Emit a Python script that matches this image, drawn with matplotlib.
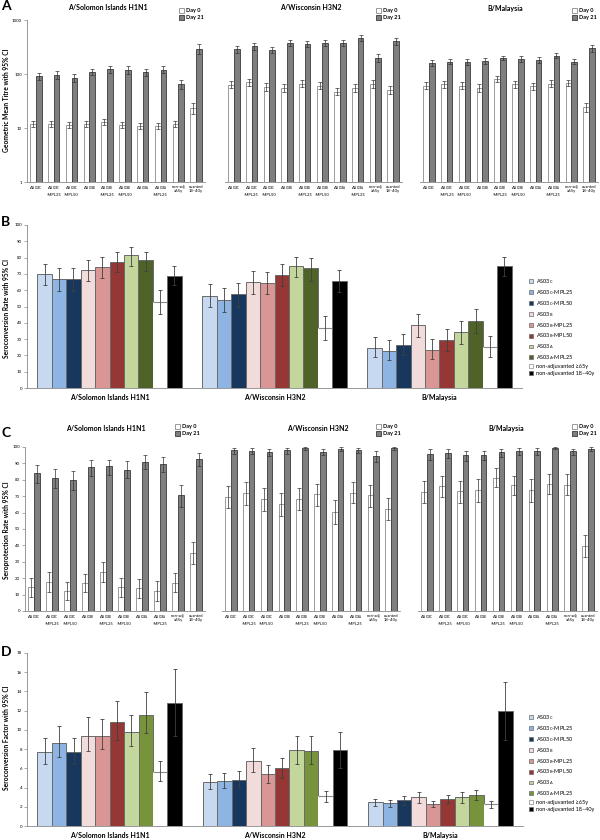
import matplotlib
matplotlib.use('Agg')
import matplotlib.pyplot as plt
import numpy as np
from matplotlib.patches import Patch

plt.rcParams['font.family'] = ['Lato', 'DejaVu Sans']
plt.rcParams['mathtext.fontset'] = 'custom'
plt.rcParams['mathtext.rm'] = 'Lato'
plt.rcParams['mathtext.it'] = 'Lato:italic'
plt.rcParams['mathtext.bf'] = 'Lato:bold'

# ---------------- data ----------------
strains = ['A/Solomon Islands H1N1', 'A/Wisconsin H3N2', 'B/Malaysia']
tick_labels = [r'AS03$_{\rm C}$', 'AS03$_{\\rm C}$\n-MPL25', 'AS03$_{\\rm C}$\n-MPL50',
               r'AS03$_{\rm B}$', 'AS03$_{\\rm B}$\n-MPL25', 'AS03$_{\\rm B}$\n-MPL50',
               r'AS03$_{\rm A}$', 'AS03$_{\\rm A}$\n-MPL25', 'non-adj\n≥65y', 'uvanted\n18–40y']
group_names = [r'AS03$_{\rm C}$', r'AS03$_{\rm C}$-MPL25', r'AS03$_{\rm C}$-MPL50',
               r'AS03$_{\rm B}$', r'AS03$_{\rm B}$-MPL25', r'AS03$_{\rm B}$-MPL50',
               r'AS03$_{\rm A}$', r'AS03$_{\rm A}$-MPL25', 'non-adjuvanted ≥65y', 'non-adjuvanted 18–40y']

# Panel A: GMT (Day 0 / Day 21) with CI
gmt_h1_d0 = [11.7, 11.7, 11.3, 11.7, 13.0, 11.3, 11.0, 10.8, 11.7, 23.5]
gmt_h1_d0_lo = [10.3, 10.4, 9.9, 10.3, 11.5, 9.9, 9.7, 9.5, 10.3, 18.5]
gmt_h1_d0_hi = [13.2, 13.2, 12.9, 13.3, 14.8, 12.8, 12.5, 12.2, 13.3, 29.0]
gmt_h1_d21 = [90, 97, 84, 110, 122, 119, 107, 120, 64, 290]
gmt_h1_d21_lo = [76, 82, 71, 96, 105, 100, 92, 104, 53, 235]
gmt_h1_d21_hi = [106, 116, 99, 126, 143, 141, 125, 140, 79, 355]

gmt_h3_d0 = [63, 70, 57, 55, 66, 61, 47, 55, 66, 51]
gmt_h3_d0_lo = [54, 60, 48, 47, 57, 52, 40, 47, 56, 43]
gmt_h3_d0_hi = [74, 82, 67, 65, 77, 72, 56, 65, 78, 61]
gmt_h3_d21 = [290, 325, 277, 375, 362, 375, 375, 460, 198, 400]
gmt_h3_d21_lo = [250, 280, 240, 325, 320, 325, 330, 400, 165, 350]
gmt_h3_d21_hi = [335, 375, 320, 430, 410, 430, 425, 530, 235, 460]

gmt_b_d0 = [61, 65, 61, 55, 81, 65, 59, 66, 69, 24]
gmt_b_d0_lo = [53, 56, 53, 47, 71, 56, 51, 57, 60, 20]
gmt_b_d0_hi = [70, 75, 70, 64, 92, 75, 68, 76, 79, 29]
gmt_b_d21 = [160, 167, 167, 174, 198, 189, 181, 218, 167, 302]
gmt_b_d21_lo = [143, 150, 149, 155, 178, 167, 161, 195, 150, 260]
gmt_b_d21_hi = [180, 186, 187, 195, 220, 213, 203, 243, 186, 350]

# Panel B: seroconversion rate (%)
scr_h1 = [69.8, 66.9, 66.9, 72.2, 74.1, 77.1, 81.6, 78.4, 52.7, 68.8]
scr_h1_lo = [62.9, 59.8, 59.8, 65.7, 67.3, 71.0, 74.9, 71.8, 45.5, 62.9]
scr_h1_hi = [75.9, 73.5, 73.9, 78.4, 80.2, 83.3, 86.7, 83.7, 60.2, 74.9]
scr_h3 = [56.5, 53.9, 57.6, 64.9, 64.7, 69.4, 74.9, 73.5, 36.7, 65.9]
scr_h3_lo = [49.4, 46.5, 50.0, 57.8, 57.8, 62.7, 67.8, 65.9, 29.6, 59.2]
scr_h3_hi = [63.7, 61.2, 64.3, 71.8, 71.4, 76.1, 80.6, 79.6, 43.9, 72.4]
scr_b = [24.5, 22.9, 26.1, 38.4, 23.5, 29.2, 34.5, 40.8, 25.1, 74.9]
scr_b_lo = [18.8, 16.9, 20.0, 31.0, 17.8, 22.4, 27.1, 33.9, 18.8, 68.5]
scr_b_hi = [31.0, 29.2, 33.1, 45.7, 30.2, 36.1, 41.4, 48.4, 32.2, 80.6]

# Panel C: seroprotection rate (%)
spr_h1_d0 = [14.4, 17.4, 12.0, 17.0, 23.5, 14.4, 13.8, 12.2, 17.0, 35.2]
spr_h1_d0_lo = [8.5, 11.3, 6.9, 11.3, 17.6, 8.5, 7.9, 6.3, 11.3, 28.7]
spr_h1_d0_hi = [20.4, 23.5, 17.6, 22.5, 29.8, 20.0, 19.4, 18.0, 23.1, 42.3]
spr_h1_d21 = [84.2, 81.4, 79.8, 87.9, 88.5, 86.2, 90.9, 89.5, 70.6, 92.5]
spr_h1_d21_lo = [78.1, 75.3, 73.7, 82.2, 82.8, 80.8, 86.8, 84.8, 63.6, 88.3]
spr_h1_d21_hi = [89.3, 86.8, 85.4, 92.3, 92.3, 91.3, 94.9, 93.9, 77.1, 96.4]

spr_h3_d0 = [69.6, 71.7, 68.0, 65.2, 68.4, 71.3, 60.1, 72.1, 70.6, 61.9]
spr_h3_d0_lo = [63.0, 64.8, 60.9, 57.9, 61.5, 64.2, 52.8, 65.6, 63.6, 55.5]
spr_h3_d0_hi = [76.5, 78.5, 74.7, 71.7, 74.7, 77.7, 67.6, 78.5, 77.1, 69.0]
spr_h3_d21 = [98.0, 97.6, 97.0, 98.0, 99.6, 97.0, 99.0, 98.4, 94.5, 99.6]
spr_h3_d21_lo = [96.0, 95.5, 94.8, 96.0, 98.0, 94.9, 97.5, 96.5, 91.0, 98.0]
spr_h3_d21_hi = [99.5, 99.2, 98.8, 99.5, 100, 98.8, 100, 99.6, 97.4, 100]

spr_b_d0 = [72.5, 76.3, 73.1, 73.7, 81.4, 76.9, 73.7, 77.3, 77.1, 39.7]
spr_b_d0_lo = [65.6, 69.8, 66.1, 66.3, 75.7, 70.7, 66.7, 71.5, 70.7, 33.0]
spr_b_d0_hi = [79.1, 82.6, 79.4, 80.2, 87.0, 82.5, 80.6, 83.8, 83.6, 46.6]
spr_b_d21 = [96.0, 96.6, 94.9, 95.3, 97.0, 97.6, 97.6, 99.6, 97.4, 99.0]
spr_b_d21_lo = [92.3, 93.0, 91.5, 92.0, 94.0, 95.0, 95.0, 98.5, 95.0, 97.8]
spr_b_d21_hi = [98.6, 98.8, 97.6, 97.8, 99.0, 99.2, 99.2, 100, 99.0, 99.8]

# Panel D: seroconversion factor
scf_h1 = [7.7, 8.6, 7.7, 9.4, 9.4, 10.8, 9.8, 11.6, 5.6, 12.8]
scf_h1_lo = [6.5, 7.2, 6.5, 7.8, 8.0, 9.0, 8.3, 9.7, 4.7, 9.4]
scf_h1_hi = [9.2, 10.4, 9.2, 11.3, 11.1, 13.0, 11.5, 13.9, 6.8, 16.3]
scf_h3 = [4.55, 4.7, 4.8, 6.8, 5.4, 6.0, 7.9, 7.8, 3.1, 7.9]
scf_h3_lo = [3.9, 4.0, 4.1, 5.6, 4.5, 5.0, 6.5, 6.5, 2.5, 6.0]
scf_h3_hi = [5.4, 5.5, 5.7, 8.1, 6.3, 7.05, 9.4, 9.4, 3.65, 9.8]
scf_b = [2.5, 2.36, 2.7, 3.0, 2.26, 2.8, 3.0, 3.2, 2.26, 12.0]
scf_b_lo = [2.1, 2.0, 2.2, 2.4, 1.95, 2.36, 2.43, 2.7, 1.9, 9.0]
scf_b_hi = [2.8, 2.7, 3.1, 3.5, 2.64, 3.2, 3.5, 3.75, 2.64, 15.0]

colors_B = ['#c6d9f1', '#8eb4e3', '#17375e', '#f2dcdb', '#d99694', '#953735',
            '#c3d69b', '#4f6228', '#ffffff', '#000000']
colors_D = ['#c6d9f1', '#8eb4e3', '#17375e', '#f2dcdb', '#d99694', '#953735',
            '#c3d69b', '#77933c', '#ffffff', '#000000']

# ---------------- layout ----------------
W, H = 600, 840
fig = plt.figure(figsize=(6, 8.4), dpi=100)

def rect(l, t, r, b):
    return [l / W, 1 - b / H, (r - l) / W, (b - t) / H]

def fx(x):
    return x / W

def fy(y):
    return 1 - y / H

TICK_FS = 3.2
ECOL = '#333333'

def day_axes(box, d0, d0lo, d0hi, d21, d21lo, d21hi, title, title_x, title_y,
             leg_x, leg_y, log, first):
    ax = fig.add_axes(rect(*box))
    d0, d0lo, d0hi = map(np.asarray, (d0, d0lo, d0hi))
    d21, d21lo, d21hi = map(np.asarray, (d21, d21lo, d21hi))
    x = np.arange(len(d0))
    w = 0.32
    if log:
        ax.set_yscale('log')
        ax.set_ylim(1, 1000)
    else:
        ax.set_ylim(0, 100)
    ax.set_xlim(-0.5, len(d0) - 0.5)
    ax.bar(x - w / 2, d0, w, color='white', edgecolor='#8a8a8a', lw=0.6, zorder=2)
    ax.bar(x + w / 2, d21, w, color='#7f7f7f', edgecolor='#3a3a3a', lw=0.6, zorder=2)
    ax.errorbar(x - w / 2, d0, yerr=[d0 - d0lo, d0hi - d0], fmt='none', ecolor=ECOL,
                elinewidth=0.5, capsize=1.2, capthick=0.5, zorder=3)
    ax.errorbar(x + w / 2, d21, yerr=[d21 - d21lo, d21hi - d21], fmt='none', ecolor=ECOL,
                elinewidth=0.5, capsize=1.2, capthick=0.5, zorder=3)
    for s in ['top', 'right']:
        ax.spines[s].set_visible(False)
    ax.spines['bottom'].set_color('#888888')
    ax.spines['bottom'].set_linewidth(0.6)
    ax.set_xticks(x)
    ax.set_xticklabels(tick_labels, fontsize=3.0, linespacing=1.1)
    ax.tick_params(axis='x', length=0, pad=2)
    if first:
        ax.spines['left'].set_color('#888888')
        ax.spines['left'].set_linewidth(0.6)
        if log:
            ax.set_yticks([1, 10, 100, 1000])
            ax.set_yticklabels(['1', '10', '100', '1000'])
            ax.minorticks_off()
        else:
            ax.set_yticks(np.arange(0, 101, 10))
        ax.tick_params(axis='y', labelsize=TICK_FS, length=2, width=0.5, pad=1.5,
                       color='#888888')
    else:
        ax.spines['left'].set_visible(False)
        ax.set_yticks([])
        ax.minorticks_off()
    fig.text(fx(title_x), fy(title_y), title, fontsize=5, fontweight='bold',
             ha='center', va='center')
    handles = [Patch(facecolor='white', edgecolor='#8a8a8a', lw=0.6, label='Day 0'),
               Patch(facecolor='#7f7f7f', edgecolor='#3a3a3a', lw=0.6, label='Day 21')]
    fig.legend(handles=handles, loc='upper left', bbox_to_anchor=(fx(leg_x), fy(leg_y)),
               frameon=False, prop={'size': 4.0, 'weight': 'bold'}, handlelength=0.9,
               handleheight=0.9, handletextpad=0.3, labelspacing=0.35, borderpad=0,
               borderaxespad=0)
    return ax

def group_axes(box, vals, los, his, colors, ylim, ystep, leg_top):
    ax = fig.add_axes(rect(*box))
    n = len(vals[0])
    w = 1 / 11.45
    for g in range(len(vals)):
        v = np.asarray(vals[g])
        lo = np.asarray(los[g])
        hi = np.asarray(his[g])
        xs = g + (np.arange(n) - (n - 1) / 2) * w
        for j in range(n):
            if colors[j] == '#ffffff':
                ax.bar(xs[j], v[j], w, color='white', edgecolor='none', zorder=2)
                ax.hlines(v[j], xs[j] - w / 2, xs[j] + w / 2, color='#8a8a8a', lw=0.8, zorder=2)
            else:
                ax.bar(xs[j], v[j], w, color=colors[j], edgecolor='#6a6a6a', lw=0.7, zorder=2)
        ax.errorbar(xs, v, yerr=[v - lo, hi - v], fmt='none', ecolor='#404040',
                    elinewidth=0.6, capsize=1.6, capthick=0.6, zorder=3)
    ax.set_xlim(-0.5, len(vals) - 0.5)
    ax.set_ylim(0, ylim)
    ax.set_yticks(np.arange(0, ylim + 0.01, ystep))
    ax.tick_params(axis='y', labelsize=TICK_FS, length=2, width=0.5, pad=1.5, color='#888888')
    ax.set_xticks(range(len(vals)))
    ax.set_xticklabels(strains, fontsize=5, fontweight='bold')
    ax.tick_params(axis='x', length=0, pad=4)
    for s in ['top', 'right']:
        ax.spines[s].set_visible(False)
    for s in ['left', 'bottom']:
        ax.spines[s].set_color('#888888')
        ax.spines[s].set_linewidth(0.6)
    handles = []
    for c, lab in zip(colors, group_names):
        ec = '#8a8a8a' if c == '#ffffff' else '#6a6a6a'
        handles.append(Patch(facecolor=c, edgecolor=ec, lw=0.5, label=lab))
    fig.legend(handles=handles, loc='upper left', bbox_to_anchor=(fx(529), fy(leg_top)),
               frameon=False, fontsize=4.0, handlelength=0.7, handleheight=0.7,
               handletextpad=0.6, labelspacing=0.36, borderpad=0, borderaxespad=0)
    return ax

# ---- Panel A ----
day_axes((27, 20, 205, 182), gmt_h1_d0, gmt_h1_d0_lo, gmt_h1_d0_hi,
         gmt_h1_d21, gmt_h1_d21_lo, gmt_h1_d21_hi, strains[0], 108, 8, 179, 8, True, True)
day_axes((225, 20, 402, 182), gmt_h3_d0, gmt_h3_d0_lo, gmt_h3_d0_hi,
         gmt_h3_d21, gmt_h3_d21_lo, gmt_h3_d21_hi, strains[1], 311, 8, 376, 8, True, False)
day_axes((420, 20, 598, 182), gmt_b_d0, gmt_b_d0_lo, gmt_b_d0_hi,
         gmt_b_d21, gmt_b_d21_lo, gmt_b_d21_hi, strains[2], 505, 8, 572, 8, True, False)

# ---- Panel B ----
group_axes((27, 225, 522, 388),
           [scr_h1, scr_h3, scr_b], [scr_h1_lo, scr_h3_lo, scr_b_lo],
           [scr_h1_hi, scr_h3_hi, scr_b_hi], colors_B, 100, 10, 277)

# ---- Panel C ----
day_axes((25, 447, 205, 611), spr_h1_d0, spr_h1_d0_lo, spr_h1_d0_hi,
         spr_h1_d21, spr_h1_d21_lo, spr_h1_d21_hi, strains[0], 106, 429, 175, 424, False, True)
day_axes((222, 447, 400, 611), spr_h3_d0, spr_h3_d0_lo, spr_h3_d0_hi,
         spr_h3_d21, spr_h3_d21_lo, spr_h3_d21_hi, strains[1], 318, 429, 376, 424, False, False)
day_axes((418, 447, 597, 611), spr_b_d0, spr_b_d0_lo, spr_b_d0_hi,
         spr_b_d21, spr_b_d21_lo, spr_b_d21_hi, strains[2], 506, 429, 572, 424, False, False)

# ---- Panel D ----
group_axes((27, 653, 523, 826),
           [scf_h1, scf_h3, scf_b], [scf_h1_lo, scf_h3_lo, scf_b_lo],
           [scf_h1_hi, scf_h3_hi, scf_b_hi], colors_D, 18, 2, 713)

# panel letters
for letter, y in [('A', 6), ('B', 222), ('C', 433), ('D', 652)]:
    fig.text(fx(1), fy(y), letter, fontsize=10, fontweight='bold', ha='left', va='center')

# y labels
for lab, y in [('Geometric Mean Titre with 95% CI', 100),
               ('Seroconversion Rate with 95% CI', 308),
               ('Seroprotection Rate with 95% CI', 530),
               ('Seroconversion Factor with 95% CI', 738)]:
    fig.text(fx(7), fy(y), lab, fontsize=4.8, fontweight='bold', rotation=90,
             ha='center', va='center')

fig.savefig('out.png', dpi=100, facecolor='white')
